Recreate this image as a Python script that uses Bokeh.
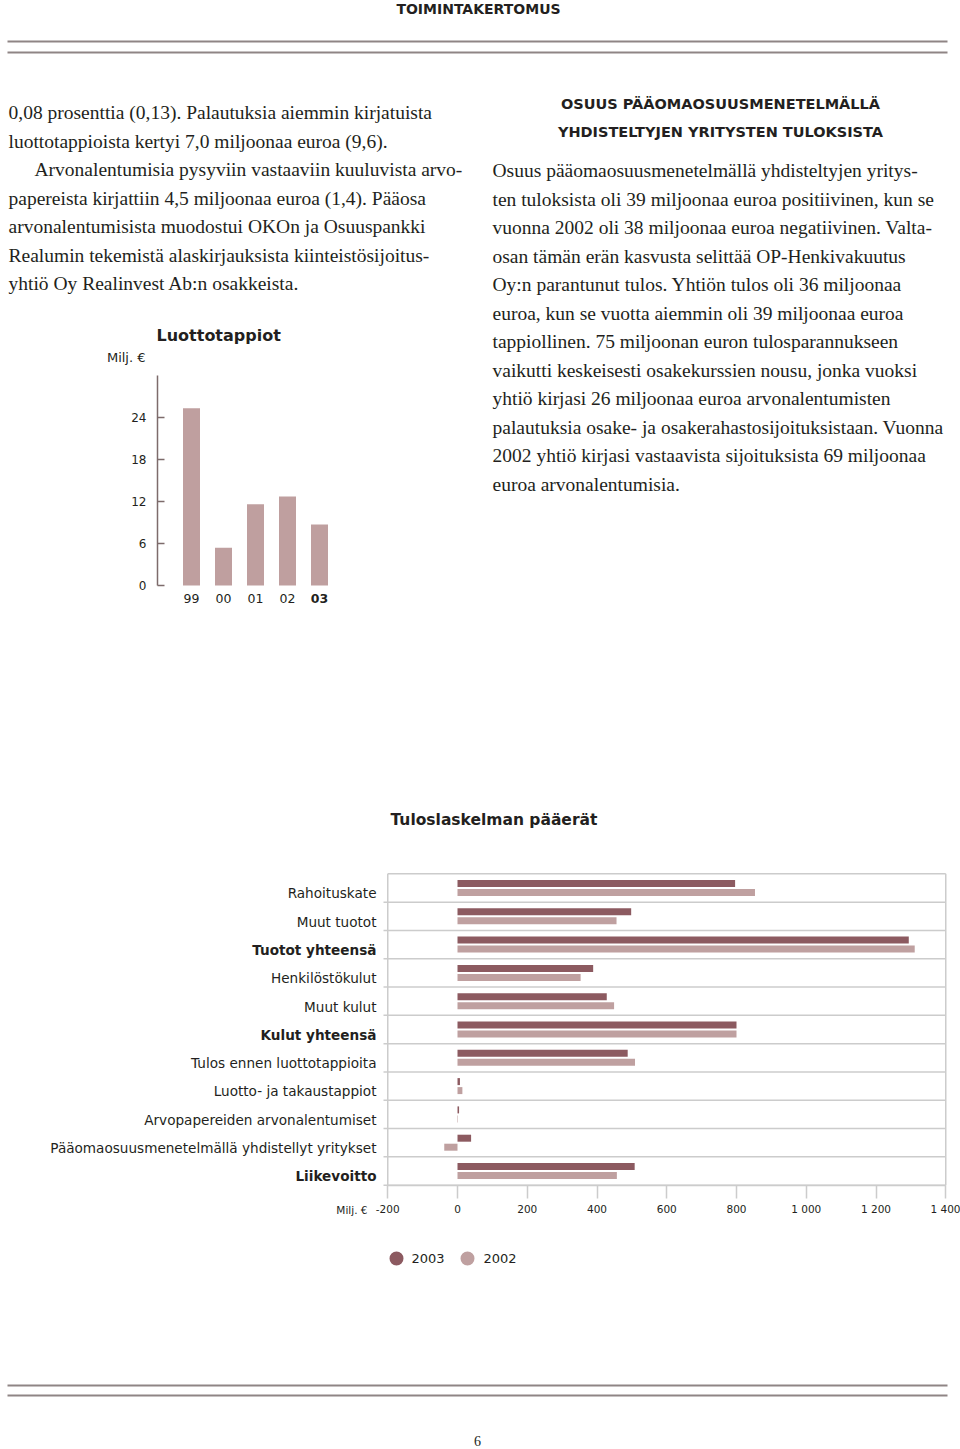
from bokeh.plotting import figure
from bokeh.models import Range1d, LinearAxis, FixedTicker
from bokeh.layouts import column, row
from bokeh.core.properties import value
from bokeh.embed import file_html
from bokeh.resources import INLINE

# ---------------- data ----------------
years = ["99", "00", "01", "02", "03"]
credit_losses = [25.3, 5.4, 11.6, 12.7, 8.7]
credit_ticks = [0, 6, 12, 18, 24]

categories = [
    "Rahoituskate",
    "Muut tuotot",
    "Tuotot yhteensä",
    "Henkilöstökulut",
    "Muut kulut",
    "Kulut yhteensä",
    "Tulos ennen luottotappioita",
    "Luotto- ja takaustappiot",
    "Arvopapereiden arvonalentumiset",
    "Pääomaosuusmenetelmällä yhdistellyt yritykset",
    "Liikevoitto",
]
values_2003 = [796, 498, 1294, 389, 428, 800, 488, 7, 4.5, 39, 508]
values_2002 = [853, 456, 1311, 353, 449, 800, 509, 14, 1.4, -38, 457]
bold_categories = ["Tuotot yhteensä", "Kulut yhteensä", "Liikevoitto"]
x_ticks = [-200, 0, 200, 400, 600, 800, 1000, 1200, 1400]
x_tick_labels = ["-200", "0", "200", "400", "600", "800", "1 000", "1 200", "1 400"]
series_names = ["2003", "2002"]

left_lines = [
    "0,08 prosenttia (0,13). Palautuksia aiemmin kirjatuista",
    "luottotappioista kertyi 7,0 miljoonaa euroa (9,6).",
    "Arvonalentumisia pysyviin vastaaviin kuuluvista arvo-",
    "papereista kirjattiin 4,5 miljoonaa euroa (1,4). Pääosa",
    "arvonalentumisista muodostui OKOn ja Osuuspankki",
    "Realumin tekemistä alaskirjauksista kiinteistösijoitus-",
    "yhtiö Oy Realinvest Ab:n osakkeista.",
]
right_heading = ["OSUUS PÄÄOMAOSUUSMENETELMÄLLÄ", "YHDISTELTYJEN YRITYSTEN TULOKSISTA"]
right_lines = [
    "Osuus pääomaosuusmenetelmällä yhdisteltyjen yritys-",
    "ten tuloksista oli 39 miljoonaa euroa positiivinen, kun se",
    "vuonna 2002 oli 38 miljoonaa euroa negatiivinen. Valta-",
    "osan tämän erän kasvusta selittää OP-Henkivakuutus",
    "Oy:n parantunut tulos. Yhtiön tulos oli 36 miljoonaa",
    "euroa, kun se vuotta aiemmin oli 39 miljoonaa euroa",
    "tappiollinen. 75 miljoonan euron tulosparannukseen",
    "vaikutti keskeisesti osakekurssien nousu, jonka vuoksi",
    "yhtiö kirjasi 26 miljoonaa euroa arvonalentumisten",
    "palautuksia osake- ja osakerahastosijoituksistaan. Vuonna",
    "2002 yhtiö kirjasi vastaavista sijoituksista 69 miljoonaa",
    "euroa arvonalentumisia.",
]

# ---------------- styles ----------------
SERIF = value("Liberation Serif")
SANS = value("DejaVu Sans")
INK = "#231f20"
DARK = "#8c5a60"
LIGHT = "#bfa0a0"
SMALLBAR = "#bf9f9f"
RULE = "#8f8585"
GRID = "#cccccc"
AXIS = "#7d6b6b"
BODY_SIZE = "19.5px"
LINE_H = 28.5


def canvas(x0, x1, y0, y1):
    p = figure(width=x1 - x0, height=y1 - y0,
               x_range=Range1d(x0, x1), y_range=Range1d(y1, y0),
               output_backend="svg", toolbar_location=None, min_border=0,
               x_axis_type=None, y_axis_type=None)
    p.outline_line_color = None
    return p


# ---------------- header ----------------
header = canvas(0, 960, 0, 60)
header.text(x=[478], y=[8], text=["TOIMINTAKERTOMUS"], text_font=SANS,
            text_font_size="14px", text_font_style="bold", text_color=INK,
            text_align="center", text_baseline="middle")
header.segment(x0=[7, 7], y0=[41, 52], x1=[947, 947], y1=[41, 52],
               line_width=2, line_color=RULE)

# ---------------- left text ----------------
left_text = canvas(0, 480, 60, 310)
lx = [34 if i == 2 else 8 for i in range(len(left_lines))]
ly = [112 + LINE_H * i for i in range(len(left_lines))]
left_text.text(x=lx, y=ly, text=left_lines, text_font=SERIF, text_font_size=BODY_SIZE,
               text_color=INK, text_align="left", text_baseline="middle")

# ---------------- small chart: Luottotappiot ----------------
BX0, BSTEP = 191.0, 32.0     # page x of first bar, px per bar step
BY0, BUNIT = 585.0, 7.01     # page y of zero, px per unit


def sx(px):
    return (px - BX0) / BSTEP


def sy(py):
    return (BY0 - py) / BUNIT


small = figure(width=480, height=320,
               x_range=Range1d(sx(0), sx(480)), y_range=Range1d(sy(630), sy(310)),
               output_backend="svg", toolbar_location=None, min_border=0,
               x_axis_type=None, y_axis_type=None)
small.outline_line_color = None
idx = list(range(len(years)))
small.vbar(x=idx, top=credit_losses, bottom=0, width=17 / BSTEP,
           fill_color=SMALLBAR, line_color=None)
yax = LinearAxis(ticker=FixedTicker(ticks=credit_ticks), bounds=(0, 30),
                 fixed_location=sx(157),
                 major_tick_in=7, major_tick_out=0, minor_tick_in=0, minor_tick_out=0,
                 axis_line_color=AXIS, axis_line_width=1.5,
                 major_tick_line_color=AXIS, major_tick_line_width=1.5,
                 major_label_text_font="DejaVu Sans", major_label_text_font_size="12px",
                 major_label_text_color=INK, major_label_standoff=11)
small.add_layout(yax, "left")
year_styles = ["bold" if i == len(years) - 1 else "normal" for i in idx]
small.text(x=idx, y=[sy(598)] * len(years), text=years, text_font=SANS,
           text_font_size="12.5px", text_font_style=year_styles, text_color=INK,
           text_align="center", text_baseline="middle")
small.text(x=[sx(156)], y=[sy(335)], text=["Luottotappiot"], text_font=SANS,
           text_font_size="16px", text_font_style="bold", text_color=INK,
           text_align="left", text_baseline="middle")
small.text(x=[sx(145)], y=[sy(357)], text=["Milj. €"], text_font=SANS,
           text_font_size="13px", text_color=INK,
           text_align="right", text_baseline="middle")

# ---------------- right text ----------------
right_text = canvas(480, 960, 60, 630)
right_text.text(x=[720, 720], y=[103, 131], text=right_heading, text_font=SANS,
                text_font_size="14.5px", text_font_style="bold", text_color=INK,
                text_align="center", text_baseline="middle")
ry = [170 + LINE_H * i for i in range(len(right_lines))]
right_text.text(x=[492] * len(right_lines), y=ry, text=right_lines, text_font=SERIF,
                text_font_size=BODY_SIZE, text_color=INK, text_align="left",
                text_baseline="middle")

# ---------------- title ----------------
title_fig = canvas(0, 960, 630, 860)
title_fig.text(x=[390], y=[819], text=["Tuloslaskelman pääerät"], text_font=SANS,
               text_font_size="15.5px", text_font_style="bold", text_color=INK,
               text_align="left", text_baseline="middle")

# ---------------- horizontal bar chart ----------------
HX0, HUNIT = 457.0, 0.34875   # page x of zero, px per unit
HY0, HROW = 887.5, 28.3       # page y of first row centre, px per row


def hx(px):
    return (px - HX0) / HUNIT


def hy(py):
    return (py - HY0) / HROW


n = len(categories)
rows = list(range(n))
hb = figure(width=960, height=370,
            x_range=Range1d(hx(0), hx(960)), y_range=Range1d(hy(1230), hy(860)),
            output_backend="svg", toolbar_location=None, min_border=0,
            x_axis_type=None, y_axis_type=None)
hb.outline_line_color = None

# frame and row separators
hb.segment(x0=[x_ticks[0]] + [hx(383)] * n, y0=[-0.5] + [r + 0.5 for r in rows],
           x1=[x_ticks[-1]] * (n + 1), y1=[-0.5] + [r + 0.5 for r in rows],
           line_color=GRID, line_width=1.5)
hb.segment(x0=[x_ticks[0], x_ticks[-1]], y0=[-0.5, -0.5],
           x1=[x_ticks[0], x_ticks[-1]], y1=[n - 0.5, n - 0.5],
           line_color=GRID, line_width=1.5)

off, bh = 0.159, 0.247
hb.hbar(y=[r - off for r in rows], left=0, right=values_2003, height=bh,
        fill_color=DARK, line_color=None)
hb.hbar(y=[r + off for r in rows], left=0, right=values_2002, height=bh,
        fill_color=LIGHT, line_color=None)

xax = LinearAxis(ticker=FixedTicker(ticks=x_ticks), bounds=(x_ticks[0], x_ticks[-1]),
                 fixed_location=n - 0.5,
                 major_label_overrides={t: lab for t, lab in zip(x_ticks, x_tick_labels)},
                 major_tick_in=0, major_tick_out=13, minor_tick_in=0, minor_tick_out=0,
                 axis_line_color=GRID, axis_line_width=1.5,
                 major_tick_line_color=GRID, major_tick_line_width=1.5,
                 major_label_text_font="DejaVu Sans", major_label_text_font_size="10.5px",
                 major_label_text_color=INK, major_label_standoff=5)
hb.add_layout(xax, "below")

cat_styles = ["bold" if c in bold_categories else "normal" for c in categories]
hb.text(x=[hx(376)] * n, y=[r + 0.19 for r in rows], text=categories, text_font=SANS,
        text_font_size="13.6px", text_font_style=cat_styles, text_color=INK,
        text_align="right", text_baseline="middle")
hb.text(x=[hx(367)], y=[hy(1209)], text=["Milj. €"], text_font=SANS,
        text_font_size="10.5px", text_color=INK, text_align="right", text_baseline="middle")

# ---------------- legend + footer ----------------
footer = canvas(0, 960, 1230, 1449)
footer.scatter(x=[396, 467], y=[1258, 1258], size=14, fill_color=[DARK, LIGHT],
               line_color=None)
footer.text(x=[411, 483], y=[1258, 1258], text=series_names, text_font=SANS,
            text_font_size="13px", text_color=INK, text_align="left", text_baseline="middle")
footer.segment(x0=[7, 7], y0=[1385, 1395], x1=[947, 947], y1=[1385, 1395],
               line_width=2, line_color=RULE)
footer.text(x=[477], y=[1440], text=["6"], text_font=SERIF, text_font_size="14px",
            text_color=INK, text_align="center", text_baseline="middle")

layout = column(
    header,
    row(column(left_text, small), right_text),
    title_fig,
    hb,
    footer,
)

open("out.html", "w").write(file_html(layout, INLINE))
